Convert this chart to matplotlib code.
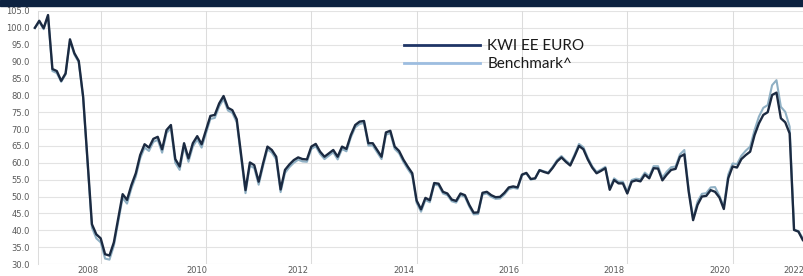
import matplotlib
matplotlib.use("Agg")
import matplotlib.pyplot as plt
from matplotlib.lines import Line2D
import numpy as np

series_names = ["KWI EE EURO", "Benchmark^"]

kwi = [100.0, 102.1, 99.9, 103.8, 87.8, 87.2, 84.3, 86.5, 96.6, 92.5,
       90.2, 79.6, 60.5, 41.8, 38.8, 37.6, 32.9, 32.5, 36.4, 43.5,
       50.7, 49.0, 53.4, 56.9, 62.3, 65.5, 64.5, 67.1, 67.7, 64.0,
       69.7, 71.2, 61.1, 58.9, 65.8, 61.3, 65.8, 67.9, 65.5, 69.7,
       73.9, 74.2, 77.6, 79.8, 76.3, 75.6, 72.9, 62.4, 51.9, 60.1,
       59.3, 54.4, 59.8, 64.8, 63.8, 61.8, 52.1, 57.9, 59.5, 60.8,
       61.6, 61.1, 61.0, 64.8, 65.6, 63.3, 61.8, 62.8, 63.8, 61.8,
       64.8, 64.1, 68.2, 71.2, 72.2, 72.4, 65.8, 65.8, 63.8, 61.8,
       69.0, 69.5, 64.8, 63.5, 60.9, 58.8, 56.9, 48.8, 46.2, 49.6,
       48.9, 54.0, 53.8, 51.4, 50.9, 49.1, 48.7, 50.9, 50.4, 47.5,
       45.2, 45.3, 51.1, 51.4, 50.4, 49.8, 49.9, 51.1, 52.7, 53.0,
       52.7, 56.5, 57.0, 55.2, 55.4, 57.8, 57.3, 56.9, 58.5, 60.4,
       61.6, 60.3, 59.2, 62.0, 65.0, 64.0, 61.0, 58.6, 56.9, 57.6,
       58.4, 52.0, 54.9, 53.9, 53.9, 50.9, 54.4, 54.8, 54.5, 56.5,
       55.4, 58.4, 58.3, 54.8, 56.5, 57.9, 58.2, 61.8, 62.5, 51.4,
       43.0, 47.5, 50.0, 50.2, 51.9, 51.4, 49.7, 46.3, 55.4, 58.9,
       58.6, 61.1, 62.3, 63.3, 68.2, 71.7, 74.2, 75.0, 80.1, 80.8,
       73.2, 72.0, 68.7, 40.1, 39.6, 37.1]

benchmark = [100.0, 101.8, 99.6, 103.5, 87.2, 86.6, 84.0, 86.2, 96.2, 92.1,
             89.8, 79.2, 59.8, 40.8, 37.6, 36.4, 31.6, 31.3, 35.4, 42.5,
             49.6, 47.9, 52.4, 55.9, 61.3, 64.5, 63.5, 66.2, 66.8, 63.0,
             68.8, 70.3, 60.0, 57.9, 64.8, 60.3, 64.8, 66.9, 64.5, 68.8,
             73.0, 73.3, 76.7, 78.9, 75.5, 74.8, 72.0, 61.5, 51.0, 59.2,
             58.4, 53.5, 59.0, 64.0, 63.0, 61.0, 51.3, 57.0, 58.7, 60.0,
             60.9, 60.4, 60.3, 64.1, 64.9, 62.6, 61.1, 62.1, 63.1, 61.0,
             64.1, 63.4, 67.5, 70.5, 71.5, 71.8, 65.1, 65.1, 63.1, 61.1,
             68.3, 68.8, 64.1, 62.8, 60.2, 58.1, 56.2, 48.1, 45.5, 49.0,
             48.3, 53.5, 53.3, 50.9, 50.4, 48.6, 48.2, 50.4, 49.9, 47.0,
             44.7, 44.8, 50.6, 50.9, 49.9, 49.3, 49.4, 50.6, 52.2, 52.6,
             52.3, 56.3, 56.9, 55.0, 55.3, 57.9, 57.5, 57.1, 58.8, 60.8,
             62.0, 60.7, 59.6, 62.5, 65.6, 64.6, 61.5, 59.0, 57.3, 58.0,
             58.8, 52.5, 55.4, 54.4, 54.4, 51.4, 54.9, 55.3, 55.1, 57.1,
             56.0, 59.0, 59.0, 55.6, 57.4, 58.7, 58.9, 62.5, 63.8, 52.0,
             43.5, 48.5, 50.8, 51.0, 52.7, 52.8, 50.2, 47.0, 56.5, 59.8,
             59.6, 62.1, 63.6, 64.8, 69.7, 73.7, 76.3, 77.1, 83.0, 84.5,
             76.6, 75.1, 70.7, 40.1, 39.8, 37.6]

year_labels = ["2008", "2010", "2012", "2014", "2016", "2018", "2020", "2022"]
label_months = [12, 37, 60, 84, 108, 132, 156, 173]
grid_months = [15, 39, 63, 87, 111, 135, 159]
y_ticks = [30, 35, 40, 45, 50, 55, 60, 65, 70, 75, 80, 85, 90, 95, 100, 105]

W, H = 804, 276
fig = plt.figure(figsize=(W / 100, H / 100), dpi=100)
fig.patch.set_facecolor("white")

left, right, top, bottom = 37.5, 804.0, 11.0, 264.0
ax = fig.add_axes([left / W, 1 - bottom / H, (right - left) / W, (bottom - top) / H])

months = np.arange(len(kwi))
ax.plot(months, benchmark, color="#8fb0c4", lw=1.5, zorder=3, clip_on=False,
        solid_joinstyle="round")
ax.plot(months, kwi, color="#1b2a41", lw=1.7, zorder=4, clip_on=False,
        solid_joinstyle="round")

ax.set_xlim(0.6, 175.27)
ax.set_ylim(30, 105)

ax.set_yticks(y_ticks)
ax.set_yticklabels([f"{v:.1f}" for v in y_ticks])
ax.set_xticks(label_months)
ax.set_xticklabels(year_labels)
ax.set_xticks(grid_months, minor=True)

ax.tick_params(axis="both", which="both", length=0, labelsize=6, labelcolor="#595959")
ax.tick_params(axis="y", pad=5.5)
ax.tick_params(axis="x", pad=1.2)

ax.grid(False)
for v in y_ticks:
    ax.axhline(v, color="#e3e3e3", lw=0.8, zorder=1)
ax.grid(True, which="minor", axis="x", color="#dcdcdc", lw=0.75, zorder=1)

for s in ["top", "right", "bottom"]:
    ax.spines[s].set_visible(False)
ax.spines["left"].set_color("#dcdcdc")
ax.spines["left"].set_linewidth(0.75)

handles = [Line2D([], [], color="#1f3566", lw=2.0),
           Line2D([], [], color="#9dbde0", lw=2.0)]
leg = fig.legend(handles, series_names, loc="upper left",
                 bbox_to_anchor=(404 / W, 1 - 39.5 / H), frameon=False,
                 borderpad=0, borderaxespad=0, handlelength=5.0,
                 handletextpad=0.45, labelspacing=0.24,
                 prop={"family": "Lato", "size": 11})
for t in leg.get_texts():
    t.set_color("#1a1a1a")

# top navy bar
fig.patches.append(plt.Rectangle((0, 1 - 5.5 / H), 1, 5.5 / H, transform=fig.transFigure,
                                 color="#0d2240", zorder=10))

fig.savefig("out.png", dpi=100)
